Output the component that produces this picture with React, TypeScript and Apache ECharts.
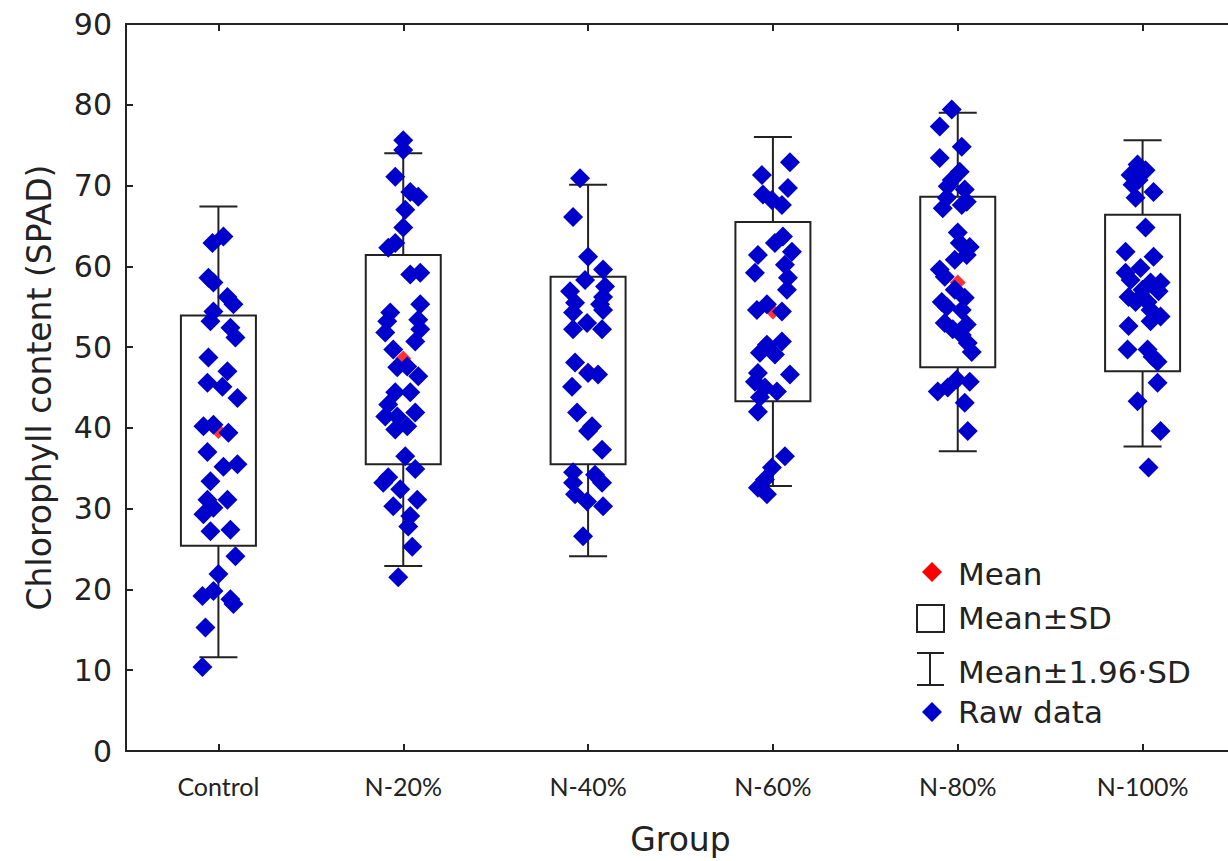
import React, { useEffect, useRef } from "react";
import * as echarts from "echarts";

const categories = ["Control", "N-20%", "N-40%", "N-60%", "N-80%", "N-100%"];
const yTicks = [0, 10, 20, 30, 40, 50, 60, 70, 80, 90];
const means = [39.6, 48.6, 47.1, 54.4, 58.0, 56.7];
const sdLow = [25.4, 35.5, 35.5, 43.3, 47.5, 47.0];
const sdHigh = [53.9, 61.4, 58.7, 65.5, 68.6, 66.4];
const ciLow = [11.6, 22.9, 24.1, 32.8, 37.1, 37.7];
const ciHigh = [67.4, 74.0, 70.1, 76.0, 79.0, 75.6];

// raw data: [horizontal jitter in px within the band, value]
const rawControl = [
  [-6, 62.9], [5, 63.7], [-10, 58.6], [-5, 58], [9, 56.2], [15, 55.3], [-5, 54.4], [-8, 53.2],
  [12, 52.4], [17, 51.2], [-10, 48.7], [9, 47], [-11, 45.6], [4, 45.1], [19, 43.7], [-15, 40.2],
  [-5, 40.4], [10, 39.4], [-11, 37.0], [5, 35.2], [19, 35.5], [-8, 33.4], [-11, 31.1], [9, 31.1],
  [-15, 29.3], [-5, 30.1], [-8, 27.2], [12, 27.4], [17, 24.1], [0, 21.9], [-16, 19.2], [-5, 19.8],
  [12, 18.8], [15, 18.2], [-13, 15.3], [-16, 10.4],
];
const raw20 = [
  [0, 75.6], [0, 74.4], [-8, 71.1], [7, 69.2], [15, 68.6], [2, 67.0], [0, 64.8], [-8, 62.9],
  [-15, 62.3], [7, 59.0], [17, 59.2], [-13, 54.3], [17, 55.3], [-16, 53.2], [15, 53.4], [-18, 51.8],
  [17, 52.2], [-10, 49.7], [12, 50.7], [-6, 47.5], [4, 47.6], [15, 46.4], [-8, 44.4], [7, 44.4],
  [-15, 42.9], [-18, 41.4], [-6, 41.4], [12, 41.9], [-8, 39.8], [4, 40.2], [2, 36.5], [-15, 33.9],
  [-20, 33.2], [12, 34.9], [-3, 32.4], [14, 31.1], [-10, 30.3], [7, 29.1], [5, 27.8], [9, 25.3],
  [-5, 21.5],
];
const raw40 = [
  [-8, 70.9], [-15, 66.1], [0, 61.2], [15, 59.6], [-3, 58.3], [17, 57.5], [-18, 56.9], [15, 56.2],
  [-13, 55.5], [12, 55.3], [-15, 54.3], [15, 54.6], [-1, 53.0], [-15, 52.2], [14, 52.2], [-13, 48.1],
  [0, 46.8], [10, 46.6], [-16, 45.1], [-11, 41.9], [4, 40.2], [0, 39.6], [14, 37.3], [-15, 34.5],
  [7, 34.2], [-15, 33.2], [14, 33.2], [-13, 31.8], [-1, 30.9], [15, 30.3], [-5, 26.6],
];
const raw60 = [
  [17, 72.9], [-11, 71.3], [15, 69.7], [-10, 68.9], [-1, 68.2], [9, 67.6], [10, 63.7], [2, 62.9],
  [19, 61.8], [-15, 61.4], [12, 60.2], [-18, 59.2], [15, 58.6], [14, 57.1], [-6, 55.3], [9, 54.4],
  [-16, 54.6], [-6, 50.3], [9, 50.7], [-13, 49.3], [2, 49.1], [-15, 46.8], [17, 46.6], [-18, 45.7],
  [-8, 45.0], [4, 44.5], [-13, 43.8], [-15, 42.0], [12, 36.5], [-1, 35.1], [-8, 33.6], [-15, 32.6],
  [-6, 31.8],
];
const raw80 = [
  [-6, 79.4], [-18, 77.3], [4, 74.8], [-18, 73.4], [2, 71.7], [-6, 70.7], [-10, 69.9], [7, 69.5],
  [-11, 68.5], [9, 68.0], [-15, 67.2], [4, 67.6], [0, 64.2], [2, 62.9], [12, 62.4], [9, 61.4],
  [-3, 60.8], [-18, 59.6], [-13, 58.7], [-3, 57.1], [-16, 55.6], [7, 56.1], [-11, 55.0], [4, 54.6],
  [-13, 53.0], [9, 52.8], [-5, 52.2], [4, 51.5], [10, 50.5], [14, 49.4], [-1, 46.0], [12, 45.7],
  [-20, 44.5], [-10, 45.0], [7, 43.1], [10, 39.6],
];
const raw100 = [
  [-5, 72.6], [3, 71.9], [-12, 71.3], [-4, 70.7], [-10, 70.1], [11, 69.2], [-7, 68.5], [3, 64.8],
  [-17, 61.8], [11, 61.2], [-2, 59.8], [-17, 59.2], [-12, 58.3], [8, 58.0], [18, 58.0], [-14, 56.2],
  [0, 57.1], [-7, 55.6], [5, 55.6], [16, 56.9], [8, 54.6], [18, 53.8], [8, 53.2], [-14, 52.6],
  [-15, 49.7], [5, 49.7], [10, 48.8], [15, 48.2], [15, 45.6], [-5, 43.3], [18, 39.6], [6, 35.1],
];
const rawGroups = [rawControl, raw20, raw40, raw60, raw80, raw100];

const FONT = "'DejaVu Sans', 'Liberation Sans', Arial, sans-serif";
const INK = "#222222";
const BLUE = "#0000cc";
const RED = "#ff0000";

const GRID_LEFT = 126;
const GRID_RIGHT_EDGE = 1235;
const CHART_W = 1240;
const CHART_H = 861;
const BAND = (GRID_RIGHT_EDGE - GRID_LEFT) / categories.length;

export default function App() {
  const ref = useRef<HTMLDivElement>(null);

  useEffect(() => {
    if (!ref.current) return;
    const chart = echarts.init(ref.current, undefined, { renderer: "svg" });

    const rawData: number[][] = [];
    rawGroups.forEach((g, i) => g.forEach(([dx, v]) => rawData.push([i + dx / BAND, v])));
    const meanData = means.map((m, i) => [i, m]);
    const boxData = categories.map((_, i) => [i, sdLow[i], sdHigh[i], ciLow[i], ciHigh[i]]);

    const lineStyle = { stroke: INK, lineWidth: 2 };

    const legendText = (text: string, y: number) => ({
      type: "text",
      x: 958,
      y,
      style: { text, fill: INK, font: `31px ${FONT}`, textVerticalAlign: "middle", verticalAlign: "middle" },
    });

    chart.setOption({
      animation: false,
      backgroundColor: "#ffffff",
      grid: { left: GRID_LEFT, right: CHART_W - GRID_RIGHT_EDGE, top: 24, bottom: CHART_H - 752 },
      xAxis: [
        {
          type: "category",
          data: categories,
          position: "bottom",
          boundaryGap: true,
          name: "Group",
          nameLocation: "middle",
          nameGap: 72,
          nameTextStyle: { fontFamily: FONT, fontSize: 33, color: INK },
          axisLine: { show: true, onZero: false, lineStyle: { color: INK, width: 2 } },
          axisTick: { show: true, inside: true, alignWithLabel: true, length: 7, lineStyle: { color: INK, width: 2 } },
          axisLabel: { fontFamily: "Lato, 'Open Sans', sans-serif", fontSize: 25, color: INK, margin: 22 },
          splitLine: { show: false },
        },
        {
          type: "category",
          data: categories,
          position: "top",
          boundaryGap: true,
          axisLine: { show: true, onZero: false, lineStyle: { color: INK, width: 2 } },
          axisTick: { show: true, inside: true, alignWithLabel: true, length: 7, lineStyle: { color: INK, width: 2 } },
          axisLabel: { show: false },
          splitLine: { show: false },
        },
        {
          type: "value",
          min: -0.5,
          max: 5.5,
          show: false,
          axisLine: { show: false, onZero: false },
          splitLine: { show: false },
        },
      ],
      yAxis: [
        {
          type: "value",
          min: 0,
          max: 90,
          interval: 10,
          position: "left",
          name: "Chlorophyll content (SPAD)",
          nameLocation: "middle",
          nameGap: 70,
          nameRotate: 90,
          nameTextStyle: { fontFamily: FONT, fontSize: 33, color: INK },
          axisLine: { show: true, onZero: false, lineStyle: { color: INK, width: 2 } },
          axisTick: { show: true, inside: true, length: 7, lineStyle: { color: INK, width: 2 } },
          axisLabel: {
            fontFamily: FONT,
            fontSize: 30,
            color: INK,
            margin: 14,
            formatter: (v: number) => (yTicks.includes(v) ? String(v) : ""),
          },
          splitLine: { show: false },
        },
      ],
      series: [
        {
          type: "custom",
          name: "Mean±SD",
          xAxisIndex: 0,
          yAxisIndex: 0,
          z: 1,
          data: boxData,
          renderItem: (_params: any, api: any) => {
            const i = api.value(0);
            const [cx, yLow] = api.coord([i, api.value(1)]);
            const [, yHigh] = api.coord([i, api.value(2)]);
            const [, wLow] = api.coord([i, api.value(3)]);
            const [, wHigh] = api.coord([i, api.value(4)]);
            const bw = 75;
            const cw = 38;
            return {
              type: "group",
              children: [
                { type: "line", shape: { x1: cx, y1: yHigh, x2: cx, y2: wHigh }, style: lineStyle },
                { type: "line", shape: { x1: cx, y1: yLow, x2: cx, y2: wLow }, style: lineStyle },
                { type: "line", shape: { x1: cx - cw / 2, y1: wHigh, x2: cx + cw / 2, y2: wHigh }, style: lineStyle },
                { type: "line", shape: { x1: cx - cw / 2, y1: wLow, x2: cx + cw / 2, y2: wLow }, style: lineStyle },
                {
                  type: "rect",
                  shape: { x: cx - bw / 2, y: yHigh, width: bw, height: yLow - yHigh },
                  style: { fill: "none", stroke: INK, lineWidth: 2 },
                },
              ],
            };
          },
        },
        {
          type: "scatter",
          name: "Mean",
          xAxisIndex: 2,
          yAxisIndex: 0,
          z: 2,
          symbol: "diamond",
          symbolSize: 16,
          itemStyle: { color: RED },
          data: meanData,
        },
        {
          type: "scatter",
          name: "Raw data",
          xAxisIndex: 2,
          yAxisIndex: 0,
          z: 3,
          symbol: "diamond",
          symbolSize: 20,
          itemStyle: { color: BLUE, opacity: 1 },
          data: rawData,
        },
      ],
      graphic: [
        {
          type: "polygon",
          shape: { points: [[932, 562], [942, 572], [932, 582], [922, 572]] },
          style: { fill: RED },
        },
        legendText("Mean", 574),
        {
          type: "rect",
          shape: { x: 917, y: 605, width: 27, height: 27 },
          style: { fill: "none", stroke: INK, lineWidth: 2 },
        },
        legendText("Mean±SD", 618),
        { type: "line", shape: { x1: 930, y1: 653, x2: 930, y2: 685 }, style: lineStyle },
        { type: "line", shape: { x1: 917, y1: 653, x2: 944, y2: 653 }, style: lineStyle },
        { type: "line", shape: { x1: 917, y1: 685, x2: 944, y2: 685 }, style: lineStyle },
        legendText("Mean±1.96·SD", 672),
        {
          type: "polygon",
          shape: { points: [[932, 702], [942, 712], [932, 722], [922, 712]] },
          style: { fill: BLUE },
        },
        legendText("Raw data", 712),
      ],
    });

    return () => chart.dispose();
  }, []);

  return (
    <div
      style={{
        position: "fixed",
        left: 0,
        top: 0,
        width: 1228,
        height: 861,
        overflow: "hidden",
        background: "#ffffff",
      }}
    >
      <div ref={ref} style={{ width: CHART_W, height: CHART_H }} />
    </div>
  );
}
